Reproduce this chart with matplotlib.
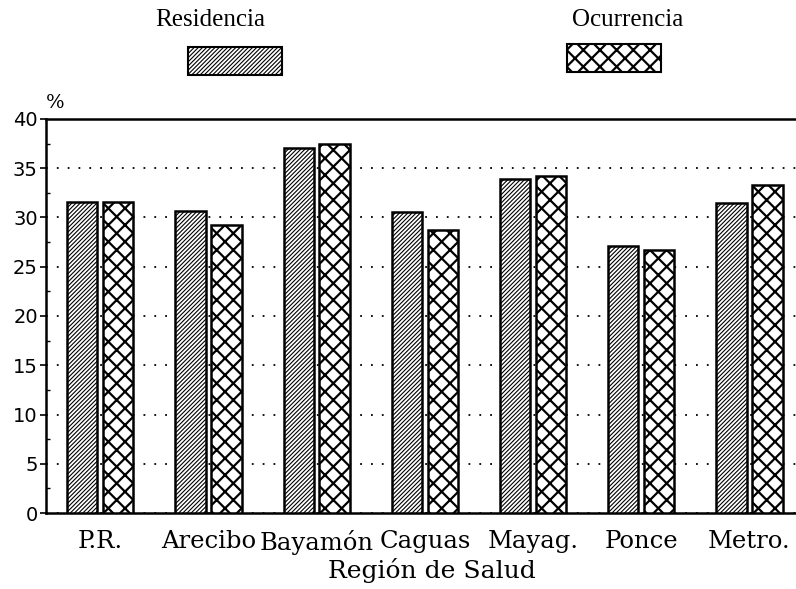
import numpy as np
import matplotlib.pyplot as plt
from matplotlib.patches import Rectangle
from matplotlib.ticker import MultipleLocator

regions = ['P.R.', 'Arecibo', 'Bayamón', 'Caguas', 'Mayag.', 'Ponce', 'Metro.']
residencia = [31.6, 30.7, 37.1, 30.6, 33.9, 27.1, 31.5]
ocurrencia = [31.6, 29.2, 37.5, 28.7, 34.2, 26.7, 33.3]
series_names = ['Residencia', 'Ocurrencia']

RES_HATCH = '/' * 8
OCC_HATCH = 'xx'

fig = plt.figure(figsize=(7.96, 5.89), dpi=100)
ax = fig.add_axes([0.058, 0.129, 0.942, 0.669])

x = np.arange(len(regions))
w = 0.28
off = 0.166

b1 = ax.bar(x - off, residencia, w, facecolor='white', edgecolor='black',
            linewidth=1.8, hatch=RES_HATCH, zorder=3)
b2 = ax.bar(x + off, ocurrencia, w, facecolor='white', edgecolor='black',
            linewidth=1.8, hatch=OCC_HATCH, zorder=3)
for p in b1:
    p.set_hatch_linewidth(0.8)
for p in b2:
    p.set_hatch_linewidth(1.6)

ax.set_xlim(-0.5, 6.43)
ax.set_ylim(0, 40)
ax.yaxis.set_major_locator(MultipleLocator(5))
ax.yaxis.set_minor_locator(MultipleLocator(2.5))
ax.grid(axis='y', color='black', linestyle=(0, (1, 5)), linewidth=1.3, zorder=1)
ax.set_axisbelow(True)

ax.spines['right'].set_visible(False)
for s in ['left', 'top', 'bottom']:
    ax.spines[s].set_linewidth(1.8)

ax.set_xticks(x)
ax.set_xticklabels(regions, fontfamily='DejaVu Serif', fontsize=17.5)
ax.tick_params(axis='x', length=0, pad=12)
ax.tick_params(axis='y', which='major', direction='out', length=4, width=1.2,
               labelsize=14, pad=2)
ax.tick_params(axis='y', which='minor', direction='in', length=3, width=1)
for lab in ax.get_yticklabels():
    lab.set_fontfamily('DejaVu Sans')

ax.set_xlabel('Región de Salud', fontfamily='DejaVu Serif', fontsize=18, labelpad=5)
ax.xaxis.set_label_coords(0.515, -0.115)
fig.text(0.058, 0.825, '%', fontfamily='DejaVu Serif', fontsize=14, va='center')

# legend drawn by hand above the plot
leg = [(0.264, 0.236, 0.873, RES_HATCH, 0.8), (0.789, 0.712, 0.878, OCC_HATCH, 1.6)]
for name, (tx, rx, ry, hatch, hlw) in zip(series_names, leg):
    fig.text(tx, 0.966, name, fontfamily='Liberation Serif', fontsize=18,
             ha='center', va='center')
    r = Rectangle((rx, ry), 0.118, 0.047, transform=fig.transFigure,
                  facecolor='white', edgecolor='black', linewidth=1.5, hatch=hatch)
    r.set_hatch_linewidth(hlw)
    fig.add_artist(r)

fig.savefig('out.png', dpi=100)
